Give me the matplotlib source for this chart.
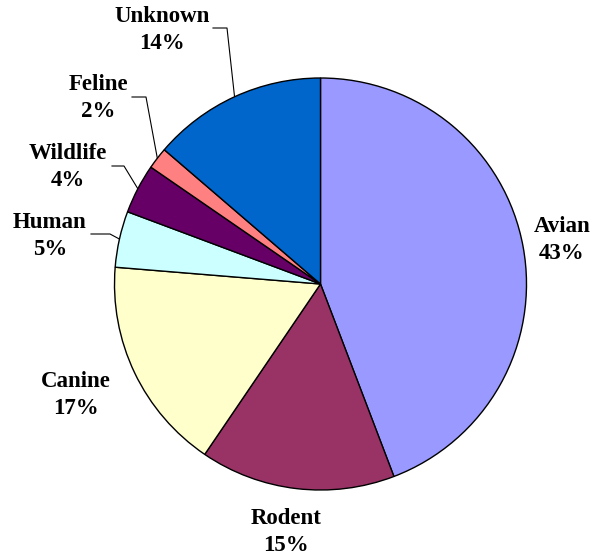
"""
Pie chart of source categories, Excel-style labels with leader lines.
"""

import numpy as np
import matplotlib

matplotlib.use("Agg")
import matplotlib.pyplot as plt

# slice sizes as drawn (percent of circle), clockwise from 12 o'clock
categories = ["Avian", "Rodent", "Canine", "Human", "Wildlife", "Feline", "Unknown"]
shares = [44.2, 15.3, 16.8, 4.4, 3.9, 1.7, 13.7]
pct_labels = ["43%", "15%", "17%", "5%", "4%", "2%", "14%"]
colors = ["#9999FF", "#993366", "#FFFFCC", "#CCFFFF", "#660066", "#FF8080", "#0066CC"]

W, H = 599, 560
# label centres in pixel coords (top-left origin)
label_pos = {
    "Avian": (562, 240),
    "Rodent": (286, 532),
    "Canine": (76, 395),
    "Human": (50, 236),
    "Wildlife": (68, 167),
    "Feline": (98, 98),
    "Unknown": (162, 30),
}
# leader line: start beside the text, elbow, then to the wedge edge
leaders = {
    "Human": [(91, 234), (110, 234)],
    "Wildlife": [(112, 166), (124, 166)],
    "Feline": [(132, 97), (146, 97)],
    "Unknown": [(213, 28), (227, 28)],
}

cx, cy, r = 320.5, H - 284, 206

fig = plt.figure(figsize=(W / 100, H / 100), dpi=100)
ax = fig.add_axes([0, 0, 1, 1])

wedges, _ = ax.pie(
    shares,
    colors=colors,
    startangle=90,
    counterclock=False,
    center=(cx, cy),
    radius=r,
    wedgeprops=dict(edgecolor="black", linewidth=1.0),
    frame=True,
)
ax.set_xlim(0, W)
ax.set_ylim(0, H)
ax.set_aspect("equal")
ax.axis("off")

font = dict(family=["Liberation Serif", "DejaVu Serif"], fontweight="bold", fontsize=16.5)

for name, pct, w in zip(categories, pct_labels, wedges):
    x, y = label_pos[name]
    ax.text(x, H - y, f"{name}\n{pct}", ha="center", va="center",
            linespacing=1.4, **font)
    if name in leaders:
        mid = np.deg2rad((w.theta1 + w.theta2) / 2)
        ex, ey = cx + r * np.cos(mid), cy + r * np.sin(mid)
        pts = [(px, H - py) for px, py in leaders[name]] + [(ex, ey)]
        xs, ys = zip(*pts)
        ax.plot(xs, ys, color="black", linewidth=0.8, zorder=0)

fig.savefig("out.png", dpi=100)
